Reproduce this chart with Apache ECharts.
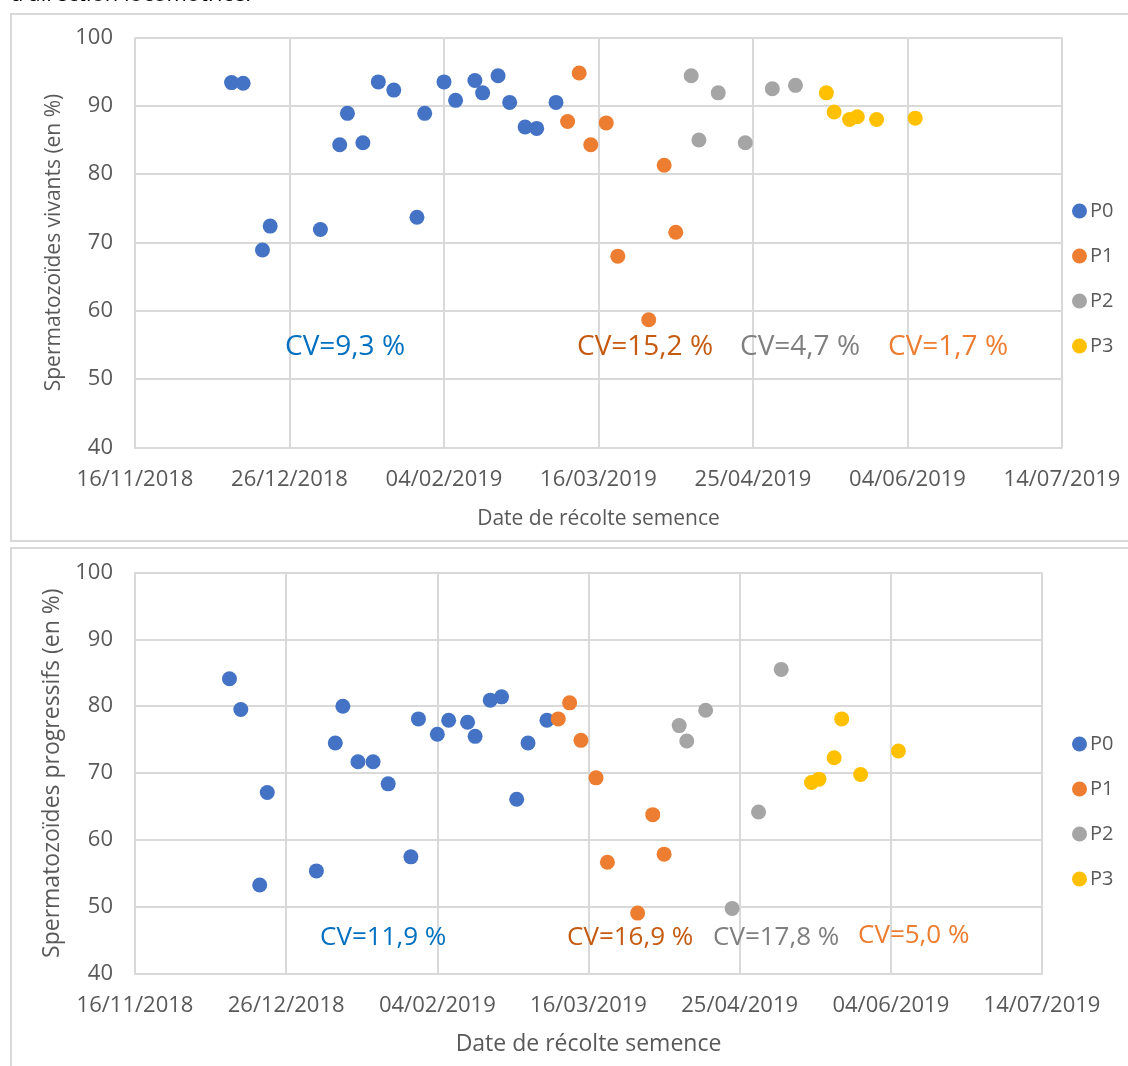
<!DOCTYPE html>
<html>
<head>
<meta charset="utf-8">
<script src="https://cdn.jsdelivr.net/npm/echarts@6/dist/echarts.min.js"></script>
<style>
html,body{margin:0;padding:0;background:#fff;}
#c{width:1128px;height:1066px;}
</style>
</head>
<body>
<div id="c"></div>
<script>
// ---- data ----
const xTickStart = '16/11/2018';   // first x tick label (axis min)
const xTickStepDays = 40;
const xTickCount = 7;              // 16/11/2018 ... 14/07/2019

const p0Dates = ['11/12/2018','14/12/2018','19/12/2018','21/12/2018','03/01/2019','08/01/2019','10/01/2019','14/01/2019','18/01/2019','22/01/2019','28/01/2019','30/01/2019','04/02/2019','07/02/2019','12/02/2019','14/02/2019','18/02/2019','21/02/2019','25/02/2019','28/02/2019','05/03/2019'];
const p1Dates = ['08/03/2019','11/03/2019','14/03/2019','18/03/2019','21/03/2019','29/03/2019','02/04/2019','05/04/2019'];
const p2Dates = ['09/04/2019','11/04/2019','16/04/2019','23/04/2019','30/04/2019','06/05/2019'];
const p3Dates = ['14/05/2019','16/05/2019','20/05/2019','22/05/2019','27/05/2019','06/06/2019'];

// Spermatozoïdes vivants (en %)
const vivP0 = [93.4, 93.3, 68.9, 72.4, 71.9, 84.3, 88.9, 84.6, 93.5, 92.3, 73.7, 88.9, 93.5, 90.8, 93.7, 91.9, 94.4, 90.5, 86.9, 86.7, 90.5];
const vivP1 = [87.7, 94.8, 84.3, 87.5, 68.0, 58.7, 81.3, 71.5];
const vivP2 = [94.4, 85.0, 91.9, 84.6, 92.5, 93.0];
const vivP3 = [91.9, 89.1, 88.0, 88.4, 88.0, 88.2];

// Spermatozoïdes progressifs (en %)
const proP0 = [84.1, 79.5, 53.3, 67.1, 55.4, 74.5, 80.0, 71.7, 71.7, 68.4, 57.5, 78.1, 75.8, 77.9, 77.6, 75.5, 80.9, 81.4, 66.1, 74.5, 77.9];
const proP1 = [78.1, 80.5, 74.9, 69.3, 56.7, 49.1, 63.8, 57.9];
const proP2 = [77.1, 74.8, 79.4, 49.8, 64.2, 85.5];
const proP3 = [68.6, 69.1, 72.3, 78.1, 69.8, 73.3];

const seriesNames = ['P0','P1','P2','P3'];
const cvViv = ['CV=9,3 %','CV=15,2 %','CV=4,7 %','CV=1,7 %'];
const cvPro = ['CV=11,9 %','CV=16,9 %','CV=17,8 %','CV=5,0 %'];

// ---- helpers ----
function parseD(s){ const p=s.split('/').map(Number); return Date.UTC(p[2],p[1]-1,p[0]); }
const BASE = parseD(xTickStart);
function dayOf(s){ return Math.round((parseD(s)-BASE)/86400000); }
function pad(n){ return (n<10?'0':'')+n; }
function fmt(v){ const t=new Date(BASE+v*86400000); return pad(t.getUTCDate())+'/'+pad(t.getUTCMonth()+1)+'/'+t.getUTCFullYear(); }
function pts(dates, vals){ return dates.map((d,i)=>[dayOf(d), vals[i]]); }

const colors = ['#4472C4','#ED7D31','#A5A5A5','#FFC000'];
const cvColors = ['#0070C0','#C55A11','#7F7F7F','#ED7D31'];
const FONT = 'Open Sans';
const xMax = xTickStepDays*(xTickCount-1);

function xAxisCfg(gi, nameSize, gap){
  return {
    type:'value', gridIndex:gi, min:0, max:xMax, interval:xTickStepDays,
    name:'Date de récolte semence', nameLocation:'middle', nameGap:gap,
    nameTextStyle:{color:'#595959', fontFamily:FONT, fontSize:nameSize},
    axisLine:{show:true, lineStyle:{color:'#D9D9D9', width:2}},
    axisTick:{show:false},
    axisLabel:{color:'#595959', fontFamily:FONT, fontSize:22, margin:21, formatter:fmt},
    splitLine:{show:true, lineStyle:{color:'#D9D9D9', width:2}}
  };
}
function yAxisCfg(gi, name, nameSize, gap){
  return {
    type:'value', gridIndex:gi, min:40, max:100, interval:10,
    name:name, nameLocation:'middle', nameGap:gap,
    nameTextStyle:{color:'#595959', fontFamily:FONT, fontSize:nameSize},
    axisLine:{show:false}, axisTick:{show:false},
    axisLabel:{color:'#595959', fontFamily:FONT, fontSize:22, margin:22},
    splitLine:{show:true, lineStyle:{color:'#D9D9D9', width:2}}
  };
}
function sc(name, gi, data, ci){
  return {name:name, type:'scatter', xAxisIndex:gi, yAxisIndex:gi, data:data,
    symbol:'circle', symbolSize:15, itemStyle:{color:colors[ci], opacity:1}, emphasis:{disabled:true}};
}
function legendCfg(top){
  return {orient:'vertical', left:1067, top:top, itemWidth:15, itemHeight:15, itemGap:25,
    icon:'circle', data:seriesNames,
    textStyle:{color:'#595959', fontFamily:FONT, fontSize:20, lineHeight:20, padding:[0,0,0,-2]}};
}
function cvText(str, x, y, c, size){
  return {type:'text', left:x, top:y, z:10,
    style:{text:str, fill:c, font:size+'px "Open Sans"'}};
}

const chart = echarts.init(document.getElementById('c'), null, {renderer:'canvas'});
const option = {
  backgroundColor:'#fff',
  animation:false,
  grid:[
    {left:135, top:37.5, width:927, height:410},
    {left:135, top:572.3, width:907, height:401.7}
  ],
  xAxis:[xAxisCfg(0,21,61), xAxisCfg(1,23,59)],
  yAxis:[yAxisCfg(0,'Spermatozoïdes vivants (en %)',21,65), yAxisCfg(1,'Spermatozoïdes progressifs (en %)',23,65)],
  legend:[legendCfg(196), legendCfg(729)],
  series:[
    sc('P0',0,pts(p0Dates,vivP0),0),
    sc('P1',0,pts(p1Dates,vivP1),1),
    sc('P2',0,pts(p2Dates,vivP2),2),
    sc('P3',0,pts(p3Dates,vivP3),3),
    sc('P0',1,pts(p0Dates,proP0),0),
    sc('P1',1,pts(p1Dates,proP1),1),
    sc('P2',1,pts(p2Dates,proP2),2),
    sc('P3',1,pts(p3Dates,proP3),3)
  ],
  graphic:[
    {type:'rect', z:-10, shape:{x:11, y:14, width:1140, height:527}, style:{fill:'none', stroke:'#D9D9D9', lineWidth:2}},
    {type:'rect', z:-10, shape:{x:11, y:548, width:1140, height:540}, style:{fill:'none', stroke:'#D9D9D9', lineWidth:2}},
    {type:'text', left:10, top:-16, style:{text:'d’direction locomotrice.', fill:'#000', font:'22px "Open Sans"'}},
    cvText(cvViv[0], 285, 333, cvColors[0], 28),
    cvText(cvViv[1], 577, 333, cvColors[1], 28),
    cvText(cvViv[2], 740, 333, cvColors[2], 28),
    cvText(cvViv[3], 888, 333, cvColors[3], 28),
    cvText(cvPro[0], 320, 925, cvColors[0], 26),
    cvText(cvPro[1], 567, 925, cvColors[1], 26),
    cvText(cvPro[2], 713, 925, cvColors[2], 26),
    cvText(cvPro[3], 858, 923, cvColors[3], 26)
  ]
};
chart.setOption(option);
</script>
</body>
</html>
